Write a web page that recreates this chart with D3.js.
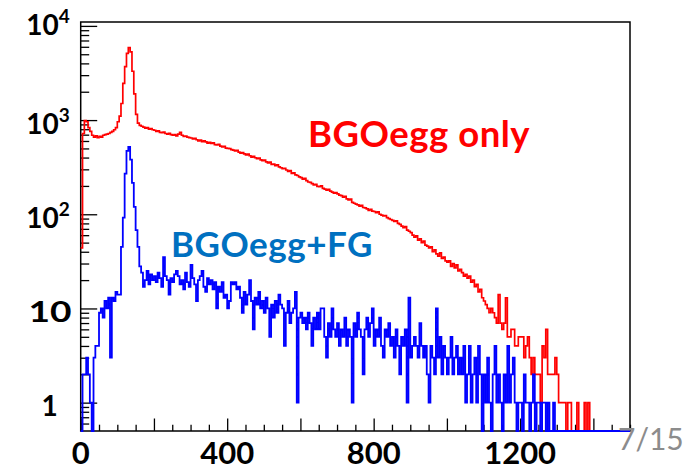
<!DOCTYPE html>
<html lang="en">
<head>
  <meta charset="UTF-8">
  <title>BGOegg energy spectrum</title>
  <style>
    body { margin: 0; background: #fff; }
    svg { display: block; }
    .lbl { font-family: Lato, "Open Sans", sans-serif; font-weight: bold; }
  </style>
</head>
<body>
  <svg class="d3-charts"></svg>
  <script src="https://cdn.jsdelivr.net/npm/d3@7/dist/d3.min.js"></script>
  <script>
    // histogram binning (ADC channels)
    var xMin = 0,
        binWidth = 5;
    var xDomain = [0, 1500],
        yDomain = [0.5, 1.1e4];

    // counts per bin
    var redCounts = [
      44, 720, 990, 960, 830, 760, 690, 660, 680, 650,
      670, 660, 690, 700, 710, 720, 740, 760, 790, 830,
      960, 1100, 1500, 2450, 3700, 5100, 5900, 5300, 3300, 1900,
      1150, 930, 880, 860, 840, 820, 830, 800, 810, 790,
      780, 760, 770, 740, 735, 745, 720, 710, 725, 700,
      690, 700, 680, 710, 740, 690, 670, 675, 660, 650,
      645, 632, 640, 618, 600, 612, 590, 602, 588, 570,
      580, 566, 572, 548, 545, 552, 530, 518, 525, 505,
      500, 498, 485, 480, 470, 476, 458, 445, 452, 438,
      428, 435, 418, 405, 412, 398, 390, 396, 378, 372,
      375, 360, 352, 358, 338, 340, 328, 335, 318, 312,
      305, 308, 295, 286, 290, 272, 275, 262, 258, 250,
      245, 236, 240, 228, 220, 218, 212, 205, 208, 198,
      196, 200, 188, 185, 180, 184, 176, 172, 168, 170,
      165, 160, 158, 152, 155, 146, 142, 145, 134, 131,
      128, 126, 122, 124, 118, 117, 114, 110, 113, 108,
      107, 104, 106, 100, 98, 96, 97, 92, 90, 88,
      86, 84, 85, 80, 78, 75, 72, 74, 68, 66,
      64, 60, 57, 59, 53, 55, 50, 52, 47, 46,
      44, 45, 40, 42, 38, 36, 39, 34, 35, 32,
      31, 32, 28, 30, 27, 29, 25, 26, 24, 22,
      23, 21, 22, 19, 20, 17, 18, 15, 16, 13,
      12, 11, 10, 9, 10, 9, 8, 7, 14, 7,
      6, 7, 13, 5, 5, 6, 6, 4, 4, 5,
      5, 5, 3, 4, 5, 3, 2, 3, 2, 2,
      2, 1, 4, 3, 6, 2, 2, 2, 2, 3,
      2, 1, 1, 1, 1, 0, 1, 1, 0, 0,
      0, 1, 0, 0, 0, 1, 0, 1, 0, 0,
      0, 0, 0, 0, 0, 0, 0, 0, 0, 0,
      0, 0, 0, 0, 0, 0, 0, 0, 0, 0
    ];
    var blueCounts = [
      0, 2, 2, 3, 2, 1, 0, 3, 4, 4,
      9, 10, 8, 12, 10, 13, 3, 13, 12, 15,
      14, 14, 45, 92, 270, 470, 520, 380, 215, 120,
      68, 45, 28, 24, 17, 20, 25, 18, 23, 20,
      22, 19, 24, 21, 17, 35, 22, 20, 14, 21,
      19, 23, 25, 22, 18, 20, 16, 24, 19, 17,
      29, 21, 18, 12, 20, 22, 25, 17, 15, 21,
      18, 20, 16, 19, 10, 17, 15, 19, 13, 14,
      10, 12, 19, 18, 19, 16, 17, 13, 9, 15,
      11, 14, 20, 12, 6, 13, 11, 15, 10, 12,
      9, 13, 10, 5, 11, 8, 12, 9, 14, 11,
      10, 4, 9, 12, 7, 9, 10, 15, 1, 8,
      9, 7, 8, 6, 9, 7, 4, 8, 6, 9,
      6, 10, 10, 5, 3, 7, 5, 10, 6, 5,
      7, 4, 6, 5, 8, 4, 6, 5, 1, 7,
      5, 9, 6, 5, 2, 6, 8, 5, 7, 10,
      4, 6, 5, 8, 4, 3, 6, 5, 7, 4,
      5, 3, 6, 4, 2, 5, 4, 6, 1, 13,
      3, 4, 5, 4, 3, 7, 4, 3, 4, 2,
      1, 4, 3, 2, 10, 3, 5, 2, 4, 3,
      2, 3, 5, 2, 3, 4, 2, 3, 2, 4,
      1, 2, 4, 1, 2, 3, 1, 4, 2, 0,
      2, 1, 3, 1, 0, 2, 4, 1, 2, 1,
      0, 2, 1, 4, 1, 2, 3, 1, 0, 1,
      1, 0, 2, 1, 1, 0, 1, 2, 0, 1,
      1, 0, 1, 1, 0, 1, 0, 0, 1, 0,
      0, 0, 0, 0, 0, 0, 0, 0, 0, 0,
      0, 0, 0, 0, 0, 0, 0, 0, 0, 0,
      0, 0, 0, 0, 0, 0, 0, 0, 0, 0,
      0, 0, 0, 0, 0, 0, 0, 0, 0, 0
    ];

    var seriesNames = ["BGOegg only", "BGOegg+FG"];
    var xTickLabels = [0, 400, 800, 1200];
    var xMajorTicks = [0, 200, 400, 600, 800, 1000, 1200, 1400];
    var yTickLabels = [1, 10, 100, 1000, 10000];
    var pageLabel = "7/15";

    var w = 685,
        h = 467;
    // frame edges (window.top is reserved, hence the prefix)
    var fLeft = 80.7, fRight = 630, fTop = 22, fBottom = 431;

    var svg = d3.select(".d3-charts")
      .attr("width", w)
      .attr("height", h);

    var x = d3.scaleLinear().domain(xDomain).range([fLeft, fRight]);
    var y = d3.scaleLog().domain(yDomain).range([fBottom, fTop]);

    // minor ticks: every 50 on x, 2..9 per decade on y
    var xMinor = d3.range(xDomain[0], xDomain[1] + 1, 50)
      .filter(d => xMajorTicks.indexOf(d) < 0);
    var yMinor = [];
    d3.range(-1, 5).forEach(function(e) {
      d3.range(2, 10).forEach(function(m) {
        var v = m * Math.pow(10, e);
        if (v > yDomain[0] && v < yDomain[1] && yTickLabels.indexOf(v) < 0) yMinor.push(v);
      });
    });

    function styleAxis(g) {
      g.select(".domain").remove();
      g.selectAll(".tick line").attr("stroke", "#000").attr("stroke-width", 1.3);
      g.selectAll(".tick text").remove();
    }

    svg.append("g")
      .attr("transform", `translate(0,${fBottom})`)
      .call(d3.axisBottom(x).tickValues(xMajorTicks).tickSize(-12.5))
      .call(styleAxis);
    svg.append("g")
      .attr("transform", `translate(0,${fBottom})`)
      .call(d3.axisBottom(x).tickValues(xMinor).tickSize(-6.3))
      .call(styleAxis);
    svg.append("g")
      .attr("transform", `translate(${fLeft},0)`)
      .call(d3.axisLeft(y).tickValues(yTickLabels).tickSize(-16.5))
      .call(styleAxis);
    svg.append("g")
      .attr("transform", `translate(${fLeft},0)`)
      .call(d3.axisLeft(y).tickValues(yMinor).tickSize(-8.5))
      .call(styleAxis);

    // frame
    svg.append("rect")
      .attr("x", fLeft)
      .attr("y", fTop)
      .attr("width", fRight - fLeft)
      .attr("height", fBottom - fTop)
      .attr("fill", "none")
      .attr("stroke", "#000")
      .attr("stroke-width", 1.5);

    // step histograms, empty bins sit on the lower edge
    function histPoints(counts) {
      var pts = counts.map((c, i) => [xMin + i * binWidth, c]);
      pts.push([xMin + counts.length * binWidth, counts[counts.length - 1]]);
      return pts;
    }
    var line = d3.line()
      .x(d => x(d[0]))
      .y(d => y(Math.max(d[1], yDomain[0])))
      .curve(d3.curveStepAfter);

    svg.append("path")
      .datum(histPoints(redCounts))
      .attr("d", line)
      .attr("fill", "none")
      .attr("stroke", "#ff0000")
      .attr("stroke-width", 1.7);
    svg.append("path")
      .datum(histPoints(blueCounts))
      .attr("d", line)
      .attr("fill", "none")
      .attr("stroke", "#0000ff")
      .attr("stroke-width", 1.8);

    // x tick labels
    svg.selectAll("text.xl")
      .data(xTickLabels)
      .enter()
      .append("text")
      .attr("class", "lbl xl")
      .attr("x", d => x(d))
      .attr("y", 464)
      .attr("text-anchor", "middle")
      .attr("font-size", 31)
      .text(d => d);

    // y tick labels, powers of ten above 10 with superscript
    var yl = svg.selectAll("text.yl")
      .data(yTickLabels)
      .enter()
      .append("text")
      .attr("class", "lbl yl")
      .attr("x", d => d === 1 ? 49.5 : d === 10 ? 50 : 48)
      .attr("y", d => d === 10000 ? y(d) + 9 : y(d) + 13.5)
      .attr("text-anchor", "middle")
      .attr("font-size", 28);
    yl.each(function(d) {
      var t = d3.select(this);
      var e = Math.round(Math.log10(d));
      if (e < 2) {
        t.text(d);
        // the plain "10" label is drawn wider in the original
        if (e === 1) t.attr("textLength", 43).attr("lengthAdjust", "spacingAndGlyphs");
      } else {
        t.append("tspan").text("10");
        t.append("tspan").attr("font-size", 19).attr("dy", -12).text(e);
      }
    });

    // annotations
    svg.append("text")
      .attr("class", "lbl")
      .attr("x", 308)
      .attr("y", 147)
      .attr("font-size", 36.5)
      .attr("letter-spacing", 0.5)
      .attr("fill", "#ff0000")
      .text(seriesNames[0]);
    svg.append("text")
      .attr("class", "lbl")
      .attr("x", 171)
      .attr("y", 257)
      .attr("font-size", 35)
      .attr("letter-spacing", 0.5)
      .attr("fill", "#0070c0")
      .text(seriesNames[1]);

    svg.append("text")
      .attr("x", 618)
      .attr("y", 450)
      .attr("font-family", "Lato, sans-serif")
      .attr("font-size", 30)
      .attr("fill", "#8c8c8c")
      .text(pageLabel);
  </script>
</body>
</html>
